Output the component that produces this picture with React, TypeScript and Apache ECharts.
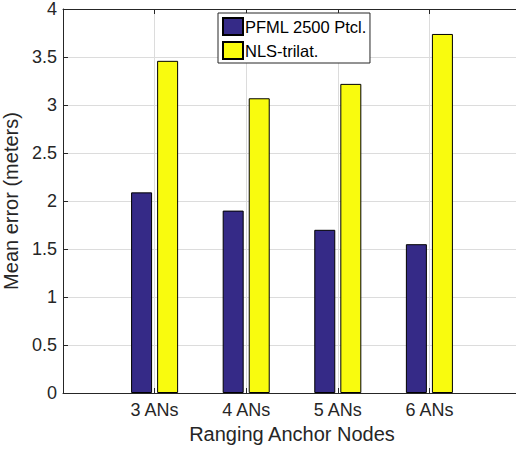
import React, { useEffect, useRef } from "react";
import * as echarts from "echarts";

const categories = ["3 ANs", "4 ANs", "5 ANs", "6 ANs"];
const pfml = [2.09, 1.9, 1.7, 1.55];
const nls = [3.46, 3.07, 3.22, 3.74];
const yTicks = { min: 0, max: 4, interval: 0.5 };
const seriesNames = ["PFML 2500 Ptcl.", "NLS-trilat."];

const FONT = "'Liberation Sans', Arial, Helvetica, sans-serif";
const INK = "#262626";
const GRID = "#dcdcdc";

export default function App() {
  const ref = useRef<HTMLDivElement>(null);
  useEffect(() => {
    if (!ref.current) return;
    const chart = echarts.init(ref.current, undefined, { renderer: "svg" });
    const cats = ["", ...categories, ""];
    const pad = (a: number[]) => [null, ...a, null];
    const inner = (i: number) => i > 0 && i < cats.length - 1;
    chart.setOption({
      animation: false,
      backgroundColor: "#ffffff",
      textStyle: { fontFamily: FONT },
      grid: { left: 63, right: 9, top: 9, bottom: 60, containLabel: false, outerBoundsMode: "none" },
      legend: {
        left: 218,
        top: 13,
        orient: "vertical",
        itemWidth: 20,
        itemHeight: 17,
        itemGap: 5,
        padding: [4, 3, 3, 4],
        backgroundColor: "#ffffff",
        borderColor: INK,
        borderWidth: 1,
        borderRadius: 0,
        icon: "rect",
        textStyle: { fontSize: 16.5, color: "#000000", fontFamily: FONT, padding: [0, 0, 0, -3] },
        data: seriesNames,
      },
      xAxis: [
        {
          type: "category",
          data: cats,
          boundaryGap: false,
          position: "bottom",
          axisLine: { show: true, lineStyle: { color: INK, width: 1 } },
          axisTick: { show: true, inside: true, length: 5, interval: (i: number) => inner(i), lineStyle: { color: INK } },
          axisLabel: { show: true, interval: 0, fontSize: 18, color: INK, margin: 8, fontFamily: FONT },
          splitLine: { show: true, interval: (i: number) => inner(i), lineStyle: { color: GRID, width: 1 } },
          name: "Ranging Anchor Nodes",
          nameLocation: "middle",
          nameGap: 31,
          nameTextStyle: { fontSize: 20, color: INK, fontFamily: FONT },
        },
        {
          type: "category",
          data: cats,
          boundaryGap: false,
          position: "top",
          axisLine: { show: true, lineStyle: { color: INK, width: 1 } },
          axisTick: { show: true, inside: true, length: 5, interval: (i: number) => inner(i), lineStyle: { color: INK } },
          axisLabel: { show: false },
          splitLine: { show: false },
        },
      ],
      yAxis: {
        type: "value",
        min: yTicks.min,
        max: yTicks.max,
        interval: yTicks.interval,
        axisLine: { show: true, lineStyle: { color: INK, width: 1 } },
        axisTick: { show: true, inside: true, length: 5, lineStyle: { color: INK } },
        axisLabel: { fontSize: 18, color: INK, margin: 6, fontFamily: FONT },
        splitLine: { show: true, lineStyle: { color: GRID, width: 1 } },
        name: "Mean error (meters)",
        nameLocation: "middle",
        nameGap: 35,
        nameTextStyle: { fontSize: 20, color: INK, fontFamily: FONT },
      },
      series: [
        {
          name: seriesNames[0],
          type: "bar",
          xAxisIndex: 0,
          data: pad(pfml),
          barWidth: 21,
          barGap: "24%",
          itemStyle: { color: "#352a87", borderColor: "#000000", borderWidth: 1 },
        },
        {
          name: seriesNames[1],
          type: "bar",
          xAxisIndex: 0,
          data: pad(nls),
          barWidth: 21,
          barGap: "24%",
          itemStyle: { color: "#f9fb0e", borderColor: "#000000", borderWidth: 1 },
        },
      ],
    });
    return () => chart.dispose();
  }, []);
  return (
    <div style={{ position: "fixed", left: 0, top: 0, width: 516, height: 453, overflow: "hidden", background: "#fff" }}>
      <div ref={ref} style={{ width: 530, height: 453 }} />
    </div>
  );
}
